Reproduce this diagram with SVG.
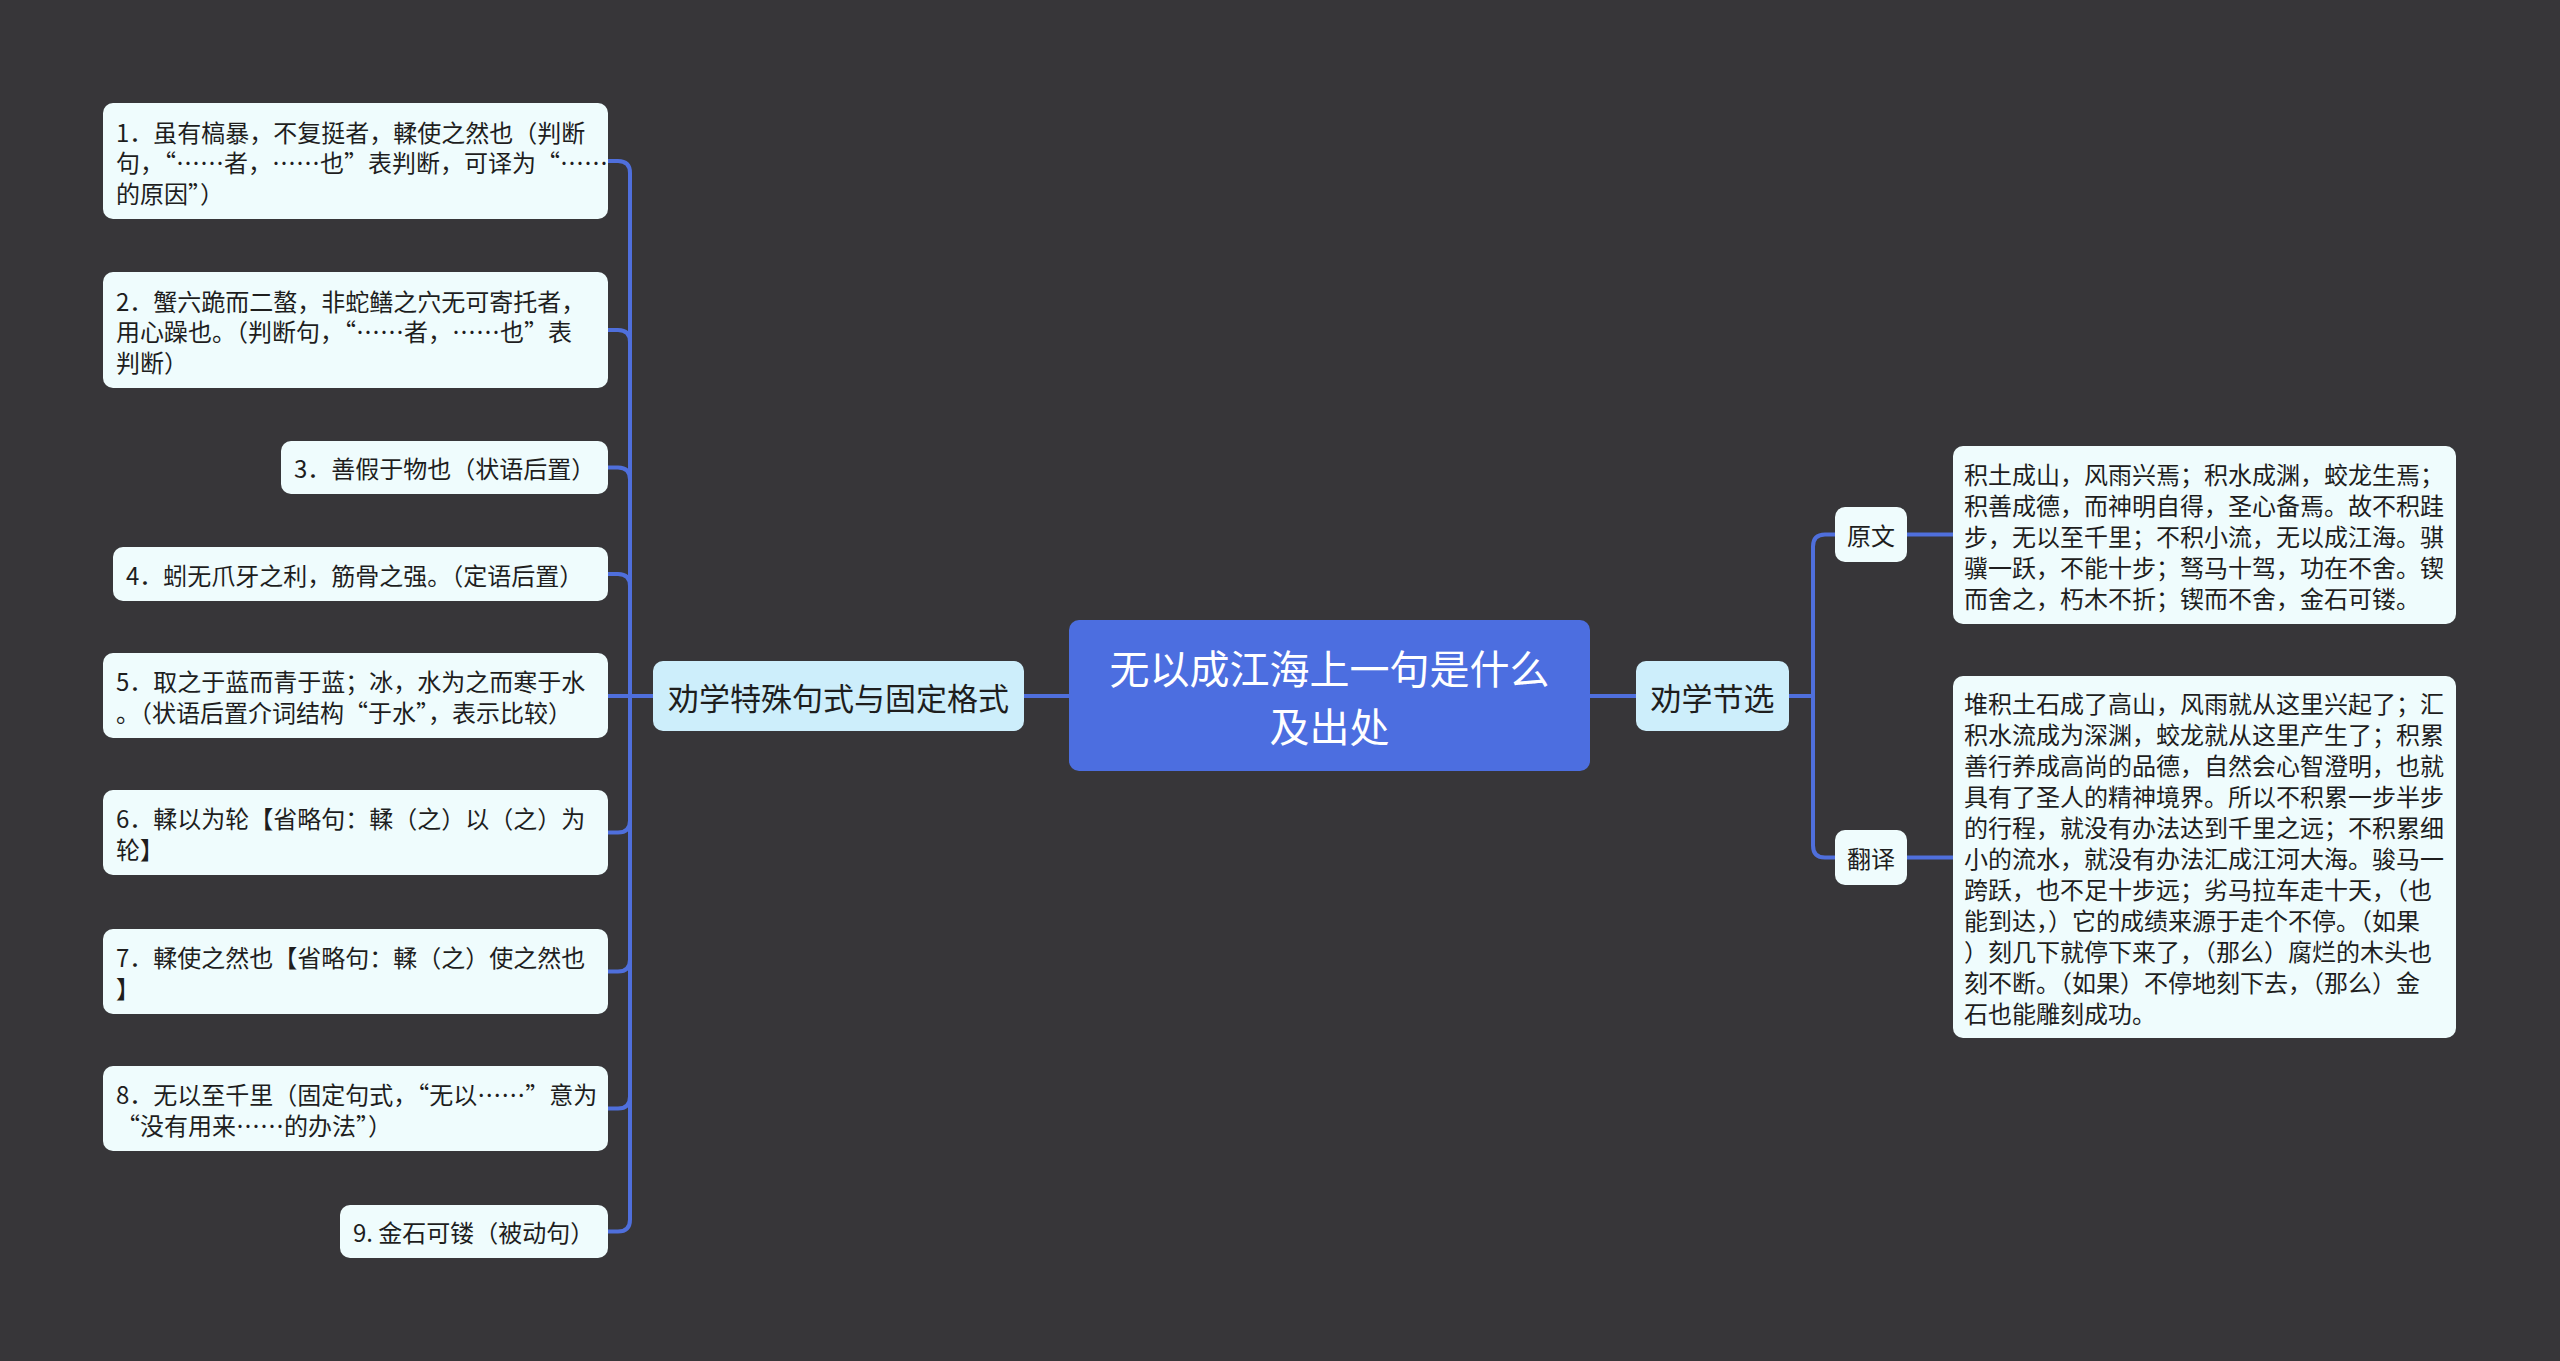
<svg xmlns="http://www.w3.org/2000/svg" width="2560" height="1361" viewBox="0 0 2560 1361">
<style>
text{font-family:"Noto Sans CJK SC","Noto Sans",sans-serif;dominant-baseline:central;}
.leaf rect{fill:#effcfd;}
.leaf text{font-size:24px;fill:#1e1e1e;}
.branch rect{fill:#cdeefb;}
.branch text{font-size:31px;fill:#1e1e1e;text-anchor:middle;}
.root rect{fill:#4c6ee0;}
.root text{font-size:40px;fill:#ffffff;text-anchor:middle;}
.conn path{fill:none;stroke:#4f6fdc;stroke-width:4;stroke-linecap:round;}
</style>
<rect x="0" y="0" width="2560" height="1361" fill="#373639"/>
<g class="conn">
<path d="M1069,696 H1024"/>
<path d="M1590,696 H1636"/>
<path d="M653,696 H630 V173 Q630,161 618,161 H608"/>
<path d="M653,696 H630 V342 Q630,330 618,330 H608"/>
<path d="M653,696 H630 V479.5 Q630,467.5 618,467.5 H608"/>
<path d="M653,696 H630 V586 Q630,574 618,574 H608"/>
<path d="M653,696 H608"/>
<path d="M653,696 H630 V820.5 Q630,832.5 618,832.5 H608"/>
<path d="M653,696 H630 V959.5 Q630,971.5 618,971.5 H608"/>
<path d="M653,696 H630 V1096.5 Q630,1108.5 618,1108.5 H608"/>
<path d="M653,696 H630 V1219.5 Q630,1231.5 618,1231.5 H608"/>
<path d="M1789,696 H1813 V546.5 Q1813,534.5 1825,534.5 H1835"/>
<path d="M1789,696 H1813 V845.5 Q1813,857.5 1825,857.5 H1835"/>
<path d="M1907,534.5 H1953"/>
<path d="M1907,857.5 H1953"/>
</g>
<g id="root" class="root">
<rect x="1069" y="620" width="521" height="151" rx="10"/>
<text><tspan x="1329.5" y="666.5">无以成江海上一句是什么</tspan><tspan x="1329.5" y="725">及出处</tspan></text>
</g>
<g id="branch-left" class="branch">
<rect x="653" y="661" width="371" height="70" rx="10"/>
<text x="838.5" y="696">劝学特殊句式与固定格式</text>
</g>
<g id="branch-right" class="branch">
<rect x="1636" y="661" width="153" height="70" rx="10"/>
<text x="1712.5" y="696">劝学节选</text>
</g>
<g id="leaf1" class="leaf">
<rect x="103" y="103" width="505" height="116" rx="10"/>
<text><tspan x="116" y="130.5">1．虽有槁暴，不复挺者，輮使之然也（判断</tspan><tspan x="116" y="161">句，“……者，……也”表判断，可译为“……</tspan><tspan x="116" y="191.5">的原因”）</tspan></text>
</g>
<g id="leaf2" class="leaf">
<rect x="103" y="272" width="505" height="116" rx="10"/>
<text><tspan x="116" y="299.5">2．蟹六跪而二螯，非蛇鳝之穴无可寄托者，</tspan><tspan x="116" y="330">用心躁也。（判断句，“……者，……也”表</tspan><tspan x="116" y="360.5">判断）</tspan></text>
</g>
<g id="leaf3" class="leaf">
<rect x="281" y="441" width="327" height="53" rx="10"/>
<text x="294" y="467.5">3．善假于物也（状语后置）</text>
</g>
<g id="leaf4" class="leaf">
<rect x="113" y="547" width="495" height="54" rx="10"/>
<text x="126" y="574">4．蚓无爪牙之利，筋骨之强。（定语后置）</text>
</g>
<g id="leaf5" class="leaf">
<rect x="103" y="653" width="505" height="85" rx="10"/>
<text><tspan x="116" y="680">5．取之于蓝而青于蓝；冰，水为之而寒于水</tspan><tspan x="116" y="711">。（状语后置介词结构“于水”，表示比较）</tspan></text>
</g>
<g id="leaf6" class="leaf">
<rect x="103" y="790" width="505" height="85" rx="10"/>
<text><tspan x="116" y="817">6．輮以为轮【省略句：輮（之）以（之）为</tspan><tspan x="116" y="848">轮】</tspan></text>
</g>
<g id="leaf7" class="leaf">
<rect x="103" y="929" width="505" height="85" rx="10"/>
<text><tspan x="116" y="956">7．輮使之然也【省略句：輮（之）使之然也</tspan><tspan x="116" y="987">】</tspan></text>
</g>
<g id="leaf8" class="leaf">
<rect x="103" y="1066" width="505" height="85" rx="10"/>
<text><tspan x="116" y="1093">8．无以至千里（固定句式，“无以……”意为</tspan><tspan x="116" y="1124">“没有用来……的办法”）</tspan></text>
</g>
<g id="leaf9" class="leaf">
<rect x="340" y="1205" width="268" height="53" rx="10"/>
<text x="353" y="1231.5">9. 金石可镂（被动句）</text>
</g>
<g id="yuanwen" class="leaf">
<rect x="1835" y="507" width="72" height="55" rx="10"/>
<text x="1871" y="534.5" text-anchor="middle">原文</text>
</g>
<g id="yuanwen-text" class="leaf">
<rect x="1953" y="446" width="503" height="178" rx="10"/>
<text><tspan x="1964" y="473">积土成山，风雨兴焉；积水成渊，蛟龙生焉；</tspan><tspan x="1964" y="504">积善成德，而神明自得，圣心备焉。故不积跬</tspan><tspan x="1964" y="535">步，无以至千里；不积小流，无以成江海。骐</tspan><tspan x="1964" y="566">骥一跃，不能十步；驽马十驾，功在不舍。锲</tspan><tspan x="1964" y="597">而舍之，朽木不折；锲而不舍，金石可镂。</tspan></text>
</g>
<g id="fanyi" class="leaf">
<rect x="1835" y="830" width="72" height="55" rx="10"/>
<text x="1871" y="857.5" text-anchor="middle">翻译</text>
</g>
<g id="fanyi-text" class="leaf">
<rect x="1953" y="676" width="503" height="362" rx="10"/>
<text><tspan x="1964" y="702">堆积土石成了高山，风雨就从这里兴起了；汇</tspan><tspan x="1964" y="733">积水流成为深渊，蛟龙就从这里产生了；积累</tspan><tspan x="1964" y="764">善行养成高尚的品德，自然会心智澄明，也就</tspan><tspan x="1964" y="795">具有了圣人的精神境界。所以不积累一步半步</tspan><tspan x="1964" y="826">的行程，就没有办法达到千里之远；不积累细</tspan><tspan x="1964" y="857">小的流水，就没有办法汇成江河大海。骏马一</tspan><tspan x="1964" y="888">跨跃，也不足十步远；劣马拉车走十天，（也</tspan><tspan x="1964" y="919">能到达，）它的成绩来源于走个不停。（如果</tspan><tspan x="1964" y="950">）刻几下就停下来了，（那么）腐烂的木头也</tspan><tspan x="1964" y="981">刻不断。（如果）不停地刻下去，（那么）金</tspan><tspan x="1964" y="1012">石也能雕刻成功。</tspan></text>
</g>
</svg>
